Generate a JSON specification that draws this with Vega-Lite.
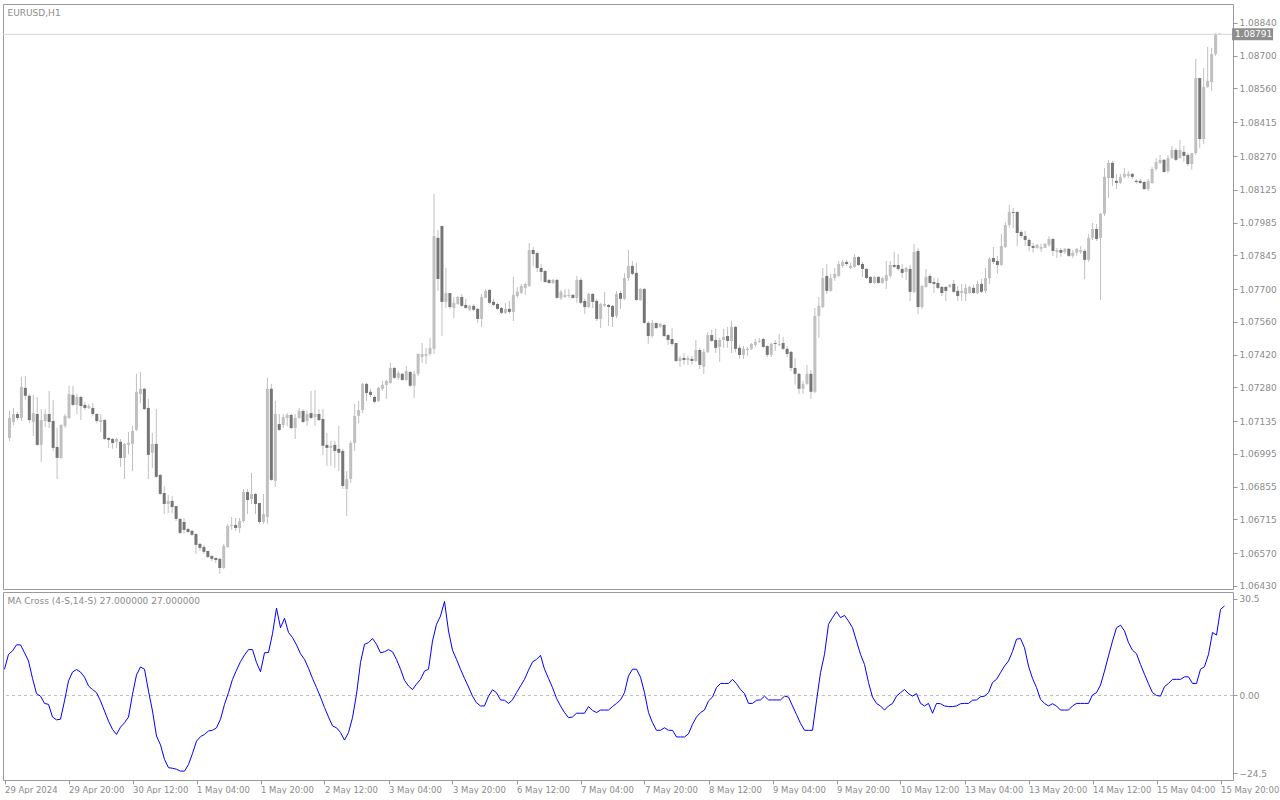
{
  "$schema": "https://vega.github.io/schema/vega-lite/v6.json",
  "background": "white",
  "padding": {"left": 2, "top": 3, "right": 0, "bottom": 0},
  "autosize": {"type": "pad"},
  "spacing": 3,
  "bounds": "flush",
  "config": {
    "font": "DejaVu Sans",
    "view": {"stroke": "#9a9a9a", "strokeWidth": 1},
    "axis": {"labelFont": "DejaVu Sans", "labelFontSize": 9, "labelColor": "#8b8b8b", "tickColor": "#9a9a9a", "domain": false, "grid": false, "title": null, "labelOverlap": false, "labelBound": false, "labelFlush": false},
    "title": {"font": "DejaVu Sans", "fontSize": 9, "fontWeight": "normal", "color": "#8b8b8b", "anchor": "start"}
  },
  "datasets": {
    "bars": [
{"i":0,"o":1.07064,"h":1.07179,"l":1.07051,"c":1.07149,"v":8.3},
{"i":1,"o":1.07132,"h":1.07192,"l":1.07119,"c":1.07166,"v":13.0},
{"i":2,"o":1.07166,"h":1.07175,"l":1.07140,"c":1.07149,"v":14.1},
{"i":3,"o":1.07149,"h":1.07325,"l":1.07136,"c":1.07282,"v":16.0},
{"i":4,"o":1.07278,"h":1.07329,"l":1.07226,"c":1.07244,"v":16.0},
{"i":5,"o":1.07244,"h":1.07252,"l":1.07127,"c":1.07140,"v":13.5},
{"i":6,"o":1.07132,"h":1.07248,"l":1.07072,"c":1.07170,"v":10.9},
{"i":7,"o":1.07166,"h":1.07239,"l":1.07030,"c":1.07034,"v":5.4},
{"i":8,"o":1.07034,"h":1.07187,"l":1.06961,"c":1.07140,"v":0.6},
{"i":9,"o":1.07136,"h":1.07187,"l":1.07110,"c":1.07166,"v":-0.2},
{"i":10,"o":1.07166,"h":1.07265,"l":1.07106,"c":1.07132,"v":-2.5},
{"i":11,"o":1.07136,"h":1.07226,"l":1.07008,"c":1.07021,"v":-2.8},
{"i":12,"o":1.07025,"h":1.07106,"l":1.06888,"c":1.06978,"v":-6.8},
{"i":13,"o":1.06978,"h":1.07123,"l":1.06974,"c":1.07119,"v":-7.7},
{"i":14,"o":1.07115,"h":1.07166,"l":1.07106,"c":1.07158,"v":-7.5},
{"i":15,"o":1.07149,"h":1.07287,"l":1.07145,"c":1.07252,"v":-1.7},
{"i":16,"o":1.07248,"h":1.07287,"l":1.07200,"c":1.07205,"v":4.6},
{"i":17,"o":1.07205,"h":1.07252,"l":1.07166,"c":1.07239,"v":7.4},
{"i":18,"o":1.07239,"h":1.07244,"l":1.07140,"c":1.07200,"v":8.2},
{"i":19,"o":1.07205,"h":1.07218,"l":1.07183,"c":1.07192,"v":7.4},
{"i":20,"o":1.07192,"h":1.07209,"l":1.07187,"c":1.07200,"v":5.8},
{"i":21,"o":1.07192,"h":1.07213,"l":1.07158,"c":1.07166,"v":3.0},
{"i":22,"o":1.07166,"h":1.07170,"l":1.07127,"c":1.07136,"v":1.9},
{"i":23,"o":1.07132,"h":1.07166,"l":1.07089,"c":1.07140,"v":0.9},
{"i":24,"o":1.07140,"h":1.07145,"l":1.07055,"c":1.07059,"v":-1.7},
{"i":25,"o":1.07064,"h":1.07064,"l":1.07021,"c":1.07055,"v":-4.9},
{"i":26,"o":1.07059,"h":1.07064,"l":1.07017,"c":1.07042,"v":-8.1},
{"i":27,"o":1.07047,"h":1.07064,"l":1.07021,"c":1.07059,"v":-10.7},
{"i":28,"o":1.07047,"h":1.07059,"l":1.06940,"c":1.06978,"v":-12.3},
{"i":29,"o":1.06978,"h":1.07042,"l":1.06888,"c":1.07038,"v":-10.0},
{"i":30,"o":1.07034,"h":1.07089,"l":1.06995,"c":1.07042,"v":-8.6},
{"i":31,"o":1.07038,"h":1.07115,"l":1.06922,"c":1.07094,"v":-6.8},
{"i":32,"o":1.07098,"h":1.07338,"l":1.07094,"c":1.07261,"v":0.4},
{"i":33,"o":1.07252,"h":1.07346,"l":1.07213,"c":1.07274,"v":6.5},
{"i":34,"o":1.07274,"h":1.07278,"l":1.07183,"c":1.07187,"v":9.0},
{"i":35,"o":1.07192,"h":1.07231,"l":1.06888,"c":1.06991,"v":8.3},
{"i":36,"o":1.07000,"h":1.07085,"l":1.06935,"c":1.07038,"v":1.4},
{"i":37,"o":1.07038,"h":1.07187,"l":1.06893,"c":1.06897,"v":-4.9},
{"i":38,"o":1.06905,"h":1.06910,"l":1.06820,"c":1.06824,"v":-12.8},
{"i":39,"o":1.06828,"h":1.06858,"l":1.06738,"c":1.06781,"v":-15.6},
{"i":40,"o":1.06781,"h":1.06820,"l":1.06742,"c":1.06794,"v":-20.2},
{"i":41,"o":1.06794,"h":1.06815,"l":1.06742,"c":1.06768,"v":-22.8},
{"i":42,"o":1.06772,"h":1.06772,"l":1.06708,"c":1.06717,"v":-23.0},
{"i":43,"o":1.06717,"h":1.06721,"l":1.06653,"c":1.06657,"v":-23.3},
{"i":44,"o":1.06704,"h":1.06721,"l":1.06653,"c":1.06670,"v":-23.9},
{"i":45,"o":1.06674,"h":1.06678,"l":1.06657,"c":1.06661,"v":-23.9},
{"i":46,"o":1.06666,"h":1.06670,"l":1.06644,"c":1.06649,"v":-21.8},
{"i":47,"o":1.06653,"h":1.06653,"l":1.06567,"c":1.06606,"v":-18.3},
{"i":48,"o":1.06610,"h":1.06614,"l":1.06580,"c":1.06593,"v":-14.4},
{"i":49,"o":1.06597,"h":1.06606,"l":1.06567,"c":1.06576,"v":-13.0},
{"i":50,"o":1.06580,"h":1.06580,"l":1.06550,"c":1.06554,"v":-12.3},
{"i":51,"o":1.06558,"h":1.06563,"l":1.06537,"c":1.06546,"v":-11.2},
{"i":52,"o":1.06550,"h":1.06550,"l":1.06528,"c":1.06541,"v":-11.0},
{"i":53,"o":1.06546,"h":1.06550,"l":1.06481,"c":1.06507,"v":-10.2},
{"i":54,"o":1.06507,"h":1.06610,"l":1.06503,"c":1.06601,"v":-7.5},
{"i":55,"o":1.06597,"h":1.06696,"l":1.06593,"c":1.06687,"v":-2.8},
{"i":56,"o":1.06687,"h":1.06725,"l":1.06670,"c":1.06691,"v":0.9},
{"i":57,"o":1.06691,"h":1.06721,"l":1.06666,"c":1.06678,"v":5.1},
{"i":58,"o":1.06678,"h":1.06721,"l":1.06657,"c":1.06708,"v":8.0},
{"i":59,"o":1.06708,"h":1.06845,"l":1.06700,"c":1.06832,"v":10.7},
{"i":60,"o":1.06832,"h":1.06845,"l":1.06738,"c":1.06798,"v":12.8},
{"i":61,"o":1.06802,"h":1.06914,"l":1.06781,"c":1.06824,"v":14.5},
{"i":62,"o":1.06824,"h":1.06828,"l":1.06738,"c":1.06781,"v":14.5},
{"i":63,"o":1.06785,"h":1.06785,"l":1.06696,"c":1.06704,"v":10.4},
{"i":64,"o":1.06704,"h":1.06824,"l":1.06696,"c":1.06738,"v":7.5},
{"i":65,"o":1.06725,"h":1.07321,"l":1.06696,"c":1.07274,"v":13.5},
{"i":66,"o":1.07274,"h":1.07295,"l":1.06880,"c":1.06884,"v":13.6},
{"i":67,"o":1.06880,"h":1.07222,"l":1.06854,"c":1.07166,"v":19.5},
{"i":68,"o":1.07123,"h":1.07166,"l":1.07094,"c":1.07098,"v":27.6},
{"i":69,"o":1.07119,"h":1.07166,"l":1.07106,"c":1.07153,"v":21.4},
{"i":70,"o":1.07149,"h":1.07170,"l":1.07115,"c":1.07162,"v":24.4},
{"i":71,"o":1.07162,"h":1.07166,"l":1.07102,"c":1.07106,"v":19.9},
{"i":72,"o":1.07106,"h":1.07166,"l":1.07059,"c":1.07149,"v":18.3},
{"i":73,"o":1.07149,"h":1.07192,"l":1.07145,"c":1.07179,"v":16.0},
{"i":74,"o":1.07179,"h":1.07187,"l":1.07127,"c":1.07132,"v":13.2},
{"i":75,"o":1.07136,"h":1.07179,"l":1.07115,"c":1.07166,"v":11.4},
{"i":76,"o":1.07170,"h":1.07265,"l":1.07145,"c":1.07149,"v":8.6},
{"i":77,"o":1.07153,"h":1.07269,"l":1.07115,"c":1.07166,"v":5.4},
{"i":78,"o":1.07166,"h":1.07187,"l":1.07136,"c":1.07140,"v":2.5},
{"i":79,"o":1.07145,"h":1.07187,"l":1.06991,"c":1.07030,"v":-0.5},
{"i":80,"o":1.07034,"h":1.07085,"l":1.06944,"c":1.07021,"v":-3.8},
{"i":81,"o":1.07021,"h":1.07051,"l":1.06944,"c":1.07030,"v":-6.8},
{"i":82,"o":1.07034,"h":1.07051,"l":1.06935,"c":1.07008,"v":-9.6},
{"i":83,"o":1.07017,"h":1.07115,"l":1.06922,"c":1.07000,"v":-10.2},
{"i":84,"o":1.07008,"h":1.07017,"l":1.06845,"c":1.06858,"v":-11.7},
{"i":85,"o":1.06845,"h":1.06922,"l":1.06730,"c":1.06888,"v":-14.1},
{"i":86,"o":1.06888,"h":1.07051,"l":1.06871,"c":1.07042,"v":-11.7},
{"i":87,"o":1.07042,"h":1.07209,"l":1.07008,"c":1.07158,"v":-7.0},
{"i":88,"o":1.07158,"h":1.07222,"l":1.07127,"c":1.07183,"v":0.4},
{"i":89,"o":1.07183,"h":1.07299,"l":1.07170,"c":1.07295,"v":10.4},
{"i":90,"o":1.07295,"h":1.07299,"l":1.07222,"c":1.07256,"v":16.2},
{"i":91,"o":1.07261,"h":1.07274,"l":1.07239,"c":1.07248,"v":16.7},
{"i":92,"o":1.07239,"h":1.07244,"l":1.07213,"c":1.07218,"v":18.0},
{"i":93,"o":1.07222,"h":1.07282,"l":1.07218,"c":1.07278,"v":16.2},
{"i":94,"o":1.07274,"h":1.07308,"l":1.07265,"c":1.07291,"v":13.5},
{"i":95,"o":1.07291,"h":1.07312,"l":1.07231,"c":1.07308,"v":13.8},
{"i":96,"o":1.07299,"h":1.07385,"l":1.07295,"c":1.07363,"v":14.5},
{"i":97,"o":1.07363,"h":1.07368,"l":1.07316,"c":1.07321,"v":13.8},
{"i":98,"o":1.07321,"h":1.07350,"l":1.07312,"c":1.07342,"v":11.4},
{"i":99,"o":1.07338,"h":1.07342,"l":1.07308,"c":1.07312,"v":8.3},
{"i":100,"o":1.07312,"h":1.07372,"l":1.07308,"c":1.07350,"v":4.8},
{"i":101,"o":1.07346,"h":1.07350,"l":1.07282,"c":1.07287,"v":3.0},
{"i":102,"o":1.07287,"h":1.07350,"l":1.07235,"c":1.07338,"v":1.9},
{"i":103,"o":1.07338,"h":1.07427,"l":1.07329,"c":1.07423,"v":3.6},
{"i":104,"o":1.07410,"h":1.07470,"l":1.07385,"c":1.07423,"v":5.1},
{"i":105,"o":1.07415,"h":1.07449,"l":1.07380,"c":1.07423,"v":7.7},
{"i":106,"o":1.07423,"h":1.07492,"l":1.07415,"c":1.07449,"v":8.3},
{"i":107,"o":1.07445,"h":1.08108,"l":1.07423,"c":1.07928,"v":17.2},
{"i":108,"o":1.07920,"h":1.07954,"l":1.07693,"c":1.07744,"v":22.5},
{"i":109,"o":1.07971,"h":1.07971,"l":1.07500,"c":1.07646,"v":25.1},
{"i":110,"o":1.07646,"h":1.07791,"l":1.07620,"c":1.07684,"v":29.7},
{"i":111,"o":1.07684,"h":1.07684,"l":1.07616,"c":1.07624,"v":20.4},
{"i":112,"o":1.07620,"h":1.07667,"l":1.07577,"c":1.07642,"v":14.3},
{"i":113,"o":1.07637,"h":1.07671,"l":1.07633,"c":1.07667,"v":11.4},
{"i":114,"o":1.07667,"h":1.07680,"l":1.07624,"c":1.07629,"v":8.3},
{"i":115,"o":1.07633,"h":1.07659,"l":1.07616,"c":1.07620,"v":5.4},
{"i":116,"o":1.07612,"h":1.07633,"l":1.07607,"c":1.07629,"v":2.7},
{"i":117,"o":1.07629,"h":1.07637,"l":1.07607,"c":1.07612,"v":-0.2},
{"i":118,"o":1.07616,"h":1.07620,"l":1.07556,"c":1.07573,"v":-2.3},
{"i":119,"o":1.07573,"h":1.07680,"l":1.07539,"c":1.07667,"v":-3.3},
{"i":120,"o":1.07663,"h":1.07701,"l":1.07663,"c":1.07693,"v":-3.3},
{"i":121,"o":1.07697,"h":1.07701,"l":1.07637,"c":1.07642,"v":-0.2},
{"i":122,"o":1.07646,"h":1.07659,"l":1.07629,"c":1.07633,"v":1.8},
{"i":123,"o":1.07637,"h":1.07642,"l":1.07612,"c":1.07616,"v":0.9},
{"i":124,"o":1.07620,"h":1.07624,"l":1.07594,"c":1.07599,"v":-1.4},
{"i":125,"o":1.07599,"h":1.07642,"l":1.07594,"c":1.07616,"v":-1.5},
{"i":126,"o":1.07616,"h":1.07650,"l":1.07594,"c":1.07603,"v":-2.5},
{"i":127,"o":1.07603,"h":1.07753,"l":1.07564,"c":1.07676,"v":-1.4},
{"i":128,"o":1.07671,"h":1.07710,"l":1.07663,"c":1.07689,"v":0.9},
{"i":129,"o":1.07684,"h":1.07723,"l":1.07680,"c":1.07714,"v":3.0},
{"i":130,"o":1.07706,"h":1.07727,"l":1.07676,"c":1.07723,"v":5.1},
{"i":131,"o":1.07714,"h":1.07898,"l":1.07710,"c":1.07868,"v":8.0},
{"i":132,"o":1.07868,"h":1.07881,"l":1.07800,"c":1.07851,"v":10.6},
{"i":133,"o":1.07855,"h":1.07860,"l":1.07774,"c":1.07791,"v":11.4},
{"i":134,"o":1.07791,"h":1.07808,"l":1.07736,"c":1.07774,"v":12.7},
{"i":135,"o":1.07778,"h":1.07783,"l":1.07727,"c":1.07731,"v":8.3},
{"i":136,"o":1.07740,"h":1.07744,"l":1.07723,"c":1.07727,"v":5.4},
{"i":137,"o":1.07727,"h":1.07744,"l":1.07723,"c":1.07740,"v":2.5},
{"i":138,"o":1.07740,"h":1.07744,"l":1.07659,"c":1.07663,"v":-0.9},
{"i":139,"o":1.07663,"h":1.07697,"l":1.07654,"c":1.07689,"v":-3.3},
{"i":140,"o":1.07667,"h":1.07701,"l":1.07663,"c":1.07676,"v":-5.4},
{"i":141,"o":1.07671,"h":1.07701,"l":1.07663,"c":1.07676,"v":-7.0},
{"i":142,"o":1.07676,"h":1.07680,"l":1.07659,"c":1.07663,"v":-6.8},
{"i":143,"o":1.07663,"h":1.07757,"l":1.07642,"c":1.07740,"v":-5.6},
{"i":144,"o":1.07740,"h":1.07748,"l":1.07637,"c":1.07642,"v":-5.6},
{"i":145,"o":1.07650,"h":1.07659,"l":1.07594,"c":1.07624,"v":-5.6},
{"i":146,"o":1.07624,"h":1.07684,"l":1.07620,"c":1.07680,"v":-3.5},
{"i":147,"o":1.07680,"h":1.07684,"l":1.07620,"c":1.07646,"v":-4.7},
{"i":148,"o":1.07650,"h":1.07659,"l":1.07564,"c":1.07573,"v":-5.4},
{"i":149,"o":1.07573,"h":1.07642,"l":1.07534,"c":1.07637,"v":-4.6},
{"i":150,"o":1.07629,"h":1.07689,"l":1.07624,"c":1.07637,"v":-4.6},
{"i":151,"o":1.07633,"h":1.07637,"l":1.07543,"c":1.07624,"v":-4.6},
{"i":152,"o":1.07629,"h":1.07633,"l":1.07539,"c":1.07582,"v":-3.5},
{"i":153,"o":1.07586,"h":1.07693,"l":1.07577,"c":1.07680,"v":-2.5},
{"i":154,"o":1.07684,"h":1.07693,"l":1.07616,"c":1.07659,"v":-1.4},
{"i":155,"o":1.07659,"h":1.07770,"l":1.07654,"c":1.07748,"v":0.9},
{"i":156,"o":1.07748,"h":1.07868,"l":1.07736,"c":1.07800,"v":6.2},
{"i":157,"o":1.07800,"h":1.07821,"l":1.07761,"c":1.07766,"v":8.3},
{"i":158,"o":1.07770,"h":1.07813,"l":1.07650,"c":1.07654,"v":8.3},
{"i":159,"o":1.07654,"h":1.07706,"l":1.07650,"c":1.07701,"v":5.8},
{"i":160,"o":1.07701,"h":1.07706,"l":1.07552,"c":1.07556,"v":0.9},
{"i":161,"o":1.07556,"h":1.07564,"l":1.07466,"c":1.07500,"v":-5.4},
{"i":162,"o":1.07500,"h":1.07569,"l":1.07492,"c":1.07556,"v":-8.6},
{"i":163,"o":1.07556,"h":1.07556,"l":1.07530,"c":1.07534,"v":-11.0},
{"i":164,"o":1.07539,"h":1.07556,"l":1.07534,"c":1.07552,"v":-11.0},
{"i":165,"o":1.07547,"h":1.07552,"l":1.07496,"c":1.07500,"v":-10.2},
{"i":166,"o":1.07504,"h":1.07509,"l":1.07462,"c":1.07483,"v":-11.0},
{"i":167,"o":1.07487,"h":1.07534,"l":1.07457,"c":1.07466,"v":-11.0},
{"i":168,"o":1.07470,"h":1.07470,"l":1.07389,"c":1.07393,"v":-13.1},
{"i":169,"o":1.07393,"h":1.07415,"l":1.07368,"c":1.07406,"v":-13.1},
{"i":170,"o":1.07406,"h":1.07427,"l":1.07376,"c":1.07397,"v":-13.1},
{"i":171,"o":1.07397,"h":1.07415,"l":1.07376,"c":1.07406,"v":-12.1},
{"i":172,"o":1.07402,"h":1.07415,"l":1.07376,"c":1.07393,"v":-9.1},
{"i":173,"o":1.07393,"h":1.07483,"l":1.07389,"c":1.07440,"v":-6.8},
{"i":174,"o":1.07440,"h":1.07449,"l":1.07359,"c":1.07376,"v":-5.4},
{"i":175,"o":1.07368,"h":1.07445,"l":1.07338,"c":1.07432,"v":-4.6},
{"i":176,"o":1.07432,"h":1.07517,"l":1.07427,"c":1.07504,"v":-1.7},
{"i":177,"o":1.07504,"h":1.07526,"l":1.07475,"c":1.07479,"v":-0.5},
{"i":178,"o":1.07483,"h":1.07530,"l":1.07427,"c":1.07449,"v":2.5},
{"i":179,"o":1.07453,"h":1.07492,"l":1.07389,"c":1.07483,"v":3.8},
{"i":180,"o":1.07483,"h":1.07530,"l":1.07449,"c":1.07496,"v":3.8},
{"i":181,"o":1.07500,"h":1.07539,"l":1.07449,"c":1.07479,"v":3.8},
{"i":182,"o":1.07479,"h":1.07564,"l":1.07427,"c":1.07539,"v":5.1},
{"i":183,"o":1.07539,"h":1.07543,"l":1.07432,"c":1.07445,"v":3.7},
{"i":184,"o":1.07449,"h":1.07462,"l":1.07402,"c":1.07419,"v":1.9},
{"i":185,"o":1.07419,"h":1.07457,"l":1.07402,"c":1.07445,"v":0.6},
{"i":186,"o":1.07440,"h":1.07453,"l":1.07415,"c":1.07445,"v":-2.5},
{"i":187,"o":1.07445,"h":1.07470,"l":1.07440,"c":1.07466,"v":-2.5},
{"i":188,"o":1.07462,"h":1.07487,"l":1.07453,"c":1.07475,"v":-1.5},
{"i":189,"o":1.07475,"h":1.07492,"l":1.07470,"c":1.07479,"v":-1.4},
{"i":190,"o":1.07487,"h":1.07492,"l":1.07449,"c":1.07453,"v":-0.2},
{"i":191,"o":1.07457,"h":1.07462,"l":1.07410,"c":1.07419,"v":-1.4},
{"i":192,"o":1.07419,"h":1.07470,"l":1.07410,"c":1.07466,"v":-1.4},
{"i":193,"o":1.07470,"h":1.07483,"l":1.07436,"c":1.07466,"v":-1.4},
{"i":194,"o":1.07462,"h":1.07509,"l":1.07457,"c":1.07466,"v":-1.4},
{"i":195,"o":1.07470,"h":1.07496,"l":1.07440,"c":1.07445,"v":-0.2},
{"i":196,"o":1.07445,"h":1.07457,"l":1.07410,"c":1.07423,"v":-0.5},
{"i":197,"o":1.07432,"h":1.07436,"l":1.07350,"c":1.07363,"v":-3.3},
{"i":198,"o":1.07363,"h":1.07406,"l":1.07291,"c":1.07338,"v":-6.0},
{"i":199,"o":1.07338,"h":1.07342,"l":1.07252,"c":1.07274,"v":-8.8},
{"i":200,"o":1.07274,"h":1.07308,"l":1.07252,"c":1.07295,"v":-11.0},
{"i":201,"o":1.07295,"h":1.07376,"l":1.07291,"c":1.07338,"v":-11.0},
{"i":202,"o":1.07338,"h":1.07355,"l":1.07231,"c":1.07261,"v":-11.0},
{"i":203,"o":1.07261,"h":1.07620,"l":1.07256,"c":1.07586,"v":-1.7},
{"i":204,"o":1.07586,"h":1.07667,"l":1.07492,"c":1.07629,"v":7.2},
{"i":205,"o":1.07624,"h":1.07791,"l":1.07620,"c":1.07748,"v":13.0},
{"i":206,"o":1.07757,"h":1.07808,"l":1.07680,"c":1.07693,"v":22.5},
{"i":207,"o":1.07693,"h":1.07766,"l":1.07689,"c":1.07748,"v":24.6},
{"i":208,"o":1.07748,"h":1.07791,"l":1.07736,"c":1.07766,"v":26.5},
{"i":209,"o":1.07757,"h":1.07821,"l":1.07753,"c":1.07808,"v":24.6},
{"i":210,"o":1.07800,"h":1.07826,"l":1.07791,"c":1.07817,"v":25.3},
{"i":211,"o":1.07817,"h":1.07826,"l":1.07800,"c":1.07808,"v":23.5},
{"i":212,"o":1.07791,"h":1.07813,"l":1.07787,"c":1.07800,"v":21.4},
{"i":213,"o":1.07796,"h":1.07851,"l":1.07791,"c":1.07838,"v":17.2},
{"i":214,"o":1.07838,"h":1.07843,"l":1.07800,"c":1.07804,"v":13.0},
{"i":215,"o":1.07808,"h":1.07817,"l":1.07753,"c":1.07787,"v":9.8},
{"i":216,"o":1.07787,"h":1.07791,"l":1.07744,"c":1.07748,"v":4.1},
{"i":217,"o":1.07753,"h":1.07757,"l":1.07723,"c":1.07727,"v":-0.5},
{"i":218,"o":1.07727,"h":1.07757,"l":1.07723,"c":1.07753,"v":-2.5},
{"i":219,"o":1.07753,"h":1.07757,"l":1.07723,"c":1.07727,"v":-3.3},
{"i":220,"o":1.07727,"h":1.07753,"l":1.07723,"c":1.07748,"v":-4.6},
{"i":221,"o":1.07736,"h":1.07821,"l":1.07701,"c":1.07761,"v":-3.3},
{"i":222,"o":1.07757,"h":1.07821,"l":1.07748,"c":1.07804,"v":-2.5},
{"i":223,"o":1.07804,"h":1.07860,"l":1.07791,"c":1.07796,"v":-0.2},
{"i":224,"o":1.07804,"h":1.07851,"l":1.07778,"c":1.07787,"v":0.9},
{"i":225,"o":1.07787,"h":1.07808,"l":1.07748,"c":1.07770,"v":1.9},
{"i":226,"o":1.07774,"h":1.07796,"l":1.07740,"c":1.07791,"v":0.6},
{"i":227,"o":1.07787,"h":1.07804,"l":1.07650,"c":1.07689,"v":-0.2},
{"i":228,"o":1.07689,"h":1.07894,"l":1.07684,"c":1.07860,"v":0.6},
{"i":229,"o":1.07864,"h":1.07877,"l":1.07594,"c":1.07624,"v":-2.5},
{"i":230,"o":1.07624,"h":1.07719,"l":1.07616,"c":1.07714,"v":-3.3},
{"i":231,"o":1.07710,"h":1.07787,"l":1.07706,"c":1.07753,"v":-2.5},
{"i":232,"o":1.07757,"h":1.07766,"l":1.07723,"c":1.07727,"v":-5.6},
{"i":233,"o":1.07731,"h":1.07748,"l":1.07684,"c":1.07723,"v":-2.5},
{"i":234,"o":1.07727,"h":1.07748,"l":1.07701,"c":1.07706,"v":-2.6},
{"i":235,"o":1.07710,"h":1.07714,"l":1.07671,"c":1.07684,"v":-3.3},
{"i":236,"o":1.07710,"h":1.07714,"l":1.07650,"c":1.07693,"v":-3.5},
{"i":237,"o":1.07710,"h":1.07723,"l":1.07706,"c":1.07719,"v":-3.5},
{"i":238,"o":1.07723,"h":1.07740,"l":1.07684,"c":1.07689,"v":-3.3},
{"i":239,"o":1.07693,"h":1.07714,"l":1.07650,"c":1.07671,"v":-2.6},
{"i":240,"o":1.07684,"h":1.07723,"l":1.07650,"c":1.07693,"v":-2.5},
{"i":241,"o":1.07680,"h":1.07723,"l":1.07650,"c":1.07706,"v":-2.5},
{"i":242,"o":1.07684,"h":1.07714,"l":1.07680,"c":1.07710,"v":-1.5},
{"i":243,"o":1.07706,"h":1.07719,"l":1.07680,"c":1.07684,"v":-1.4},
{"i":244,"o":1.07684,"h":1.07736,"l":1.07680,"c":1.07723,"v":-0.4},
{"i":245,"o":1.07723,"h":1.07744,"l":1.07684,"c":1.07689,"v":-0.2},
{"i":246,"o":1.07693,"h":1.07791,"l":1.07684,"c":1.07748,"v":0.9},
{"i":247,"o":1.07748,"h":1.07838,"l":1.07723,"c":1.07830,"v":4.1},
{"i":248,"o":1.07834,"h":1.07881,"l":1.07808,"c":1.07817,"v":5.1},
{"i":249,"o":1.07821,"h":1.07843,"l":1.07766,"c":1.07804,"v":7.2},
{"i":250,"o":1.07804,"h":1.07937,"l":1.07800,"c":1.07885,"v":9.3},
{"i":251,"o":1.07881,"h":1.07988,"l":1.07877,"c":1.07975,"v":10.9},
{"i":252,"o":1.07975,"h":1.08061,"l":1.07962,"c":1.08031,"v":13.9},
{"i":253,"o":1.08031,"h":1.08048,"l":1.07962,"c":1.08027,"v":17.8},
{"i":254,"o":1.08031,"h":1.08035,"l":1.07885,"c":1.07941,"v":18.0},
{"i":255,"o":1.07945,"h":1.07954,"l":1.07920,"c":1.07928,"v":15.1},
{"i":256,"o":1.07928,"h":1.07950,"l":1.07885,"c":1.07911,"v":9.3},
{"i":257,"o":1.07911,"h":1.07920,"l":1.07864,"c":1.07885,"v":5.4},
{"i":258,"o":1.07885,"h":1.07898,"l":1.07856,"c":1.07877,"v":2.5},
{"i":259,"o":1.07877,"h":1.07894,"l":1.07873,"c":1.07890,"v":-1.2},
{"i":260,"o":1.07873,"h":1.07894,"l":1.07860,"c":1.07881,"v":-2.5},
{"i":261,"o":1.07877,"h":1.07898,"l":1.07877,"c":1.07894,"v":-3.3},
{"i":262,"o":1.07890,"h":1.07928,"l":1.07881,"c":1.07915,"v":-2.6},
{"i":263,"o":1.07915,"h":1.07920,"l":1.07843,"c":1.07864,"v":-3.3},
{"i":264,"o":1.07860,"h":1.07877,"l":1.07834,"c":1.07868,"v":-4.6},
{"i":265,"o":1.07868,"h":1.07877,"l":1.07838,"c":1.07856,"v":-4.6},
{"i":266,"o":1.07860,"h":1.07877,"l":1.07851,"c":1.07873,"v":-4.6},
{"i":267,"o":1.07873,"h":1.07877,"l":1.07838,"c":1.07843,"v":-3.3},
{"i":268,"o":1.07843,"h":1.07868,"l":1.07834,"c":1.07856,"v":-2.5},
{"i":269,"o":1.07856,"h":1.07877,"l":1.07843,"c":1.07873,"v":-2.5},
{"i":270,"o":1.07860,"h":1.07885,"l":1.07851,"c":1.07868,"v":-2.5},
{"i":271,"o":1.07864,"h":1.07873,"l":1.07744,"c":1.07826,"v":-2.5},
{"i":272,"o":1.07826,"h":1.07937,"l":1.07817,"c":1.07920,"v":0.2},
{"i":273,"o":1.07920,"h":1.07984,"l":1.07911,"c":1.07958,"v":0.9},
{"i":274,"o":1.07958,"h":1.07980,"l":1.07907,"c":1.07915,"v":3.3},
{"i":275,"o":1.07920,"h":1.08027,"l":1.07654,"c":1.08023,"v":7.7},
{"i":276,"o":1.08023,"h":1.08219,"l":1.08014,"c":1.08181,"v":12.5},
{"i":277,"o":1.08176,"h":1.08254,"l":1.08091,"c":1.08241,"v":17.2},
{"i":278,"o":1.08241,"h":1.08249,"l":1.08142,"c":1.08176,"v":21.4},
{"i":279,"o":1.08164,"h":1.08194,"l":1.08129,"c":1.08155,"v":22.2},
{"i":280,"o":1.08155,"h":1.08194,"l":1.08151,"c":1.08181,"v":20.4},
{"i":281,"o":1.08181,"h":1.08219,"l":1.08176,"c":1.08194,"v":16.7},
{"i":282,"o":1.08185,"h":1.08206,"l":1.08176,"c":1.08194,"v":14.3},
{"i":283,"o":1.08194,"h":1.08198,"l":1.08172,"c":1.08181,"v":13.2},
{"i":284,"o":1.08164,"h":1.08172,"l":1.08151,"c":1.08159,"v":9.8},
{"i":285,"o":1.08164,"h":1.08172,"l":1.08151,"c":1.08155,"v":6.7},
{"i":286,"o":1.08159,"h":1.08164,"l":1.08125,"c":1.08129,"v":3.7},
{"i":287,"o":1.08129,"h":1.08172,"l":1.08121,"c":1.08164,"v":0.9},
{"i":288,"o":1.08155,"h":1.08223,"l":1.08151,"c":1.08215,"v":0.0},
{"i":289,"o":1.08215,"h":1.08262,"l":1.08206,"c":1.08245,"v":-0.2},
{"i":290,"o":1.08241,"h":1.08275,"l":1.08236,"c":1.08254,"v":2.8},
{"i":291,"o":1.08254,"h":1.08258,"l":1.08198,"c":1.08202,"v":3.8},
{"i":292,"o":1.08206,"h":1.08275,"l":1.08198,"c":1.08262,"v":5.1},
{"i":293,"o":1.08262,"h":1.08313,"l":1.08258,"c":1.08296,"v":5.1},
{"i":294,"o":1.08296,"h":1.08305,"l":1.08249,"c":1.08254,"v":5.1},
{"i":295,"o":1.08262,"h":1.08339,"l":1.08258,"c":1.08296,"v":5.9},
{"i":296,"o":1.08288,"h":1.08313,"l":1.08245,"c":1.08271,"v":5.9},
{"i":297,"o":1.08275,"h":1.08283,"l":1.08228,"c":1.08236,"v":3.8},
{"i":298,"o":1.08236,"h":1.08283,"l":1.08211,"c":1.08283,"v":3.8},
{"i":299,"o":1.08283,"h":1.08686,"l":1.08275,"c":1.08604,"v":8.3},
{"i":300,"o":1.08604,"h":1.08604,"l":1.08305,"c":1.08343,"v":9.1},
{"i":301,"o":1.08343,"h":1.08647,"l":1.08322,"c":1.08566,"v":13.0},
{"i":302,"o":1.08566,"h":1.08737,"l":1.08562,"c":1.08592,"v":19.9},
{"i":303,"o":1.08587,"h":1.08733,"l":1.08549,"c":1.08707,"v":19.1},
{"i":304,"o":1.08707,"h":1.08797,"l":1.08699,"c":1.08793,"v":27.2},
{"i":305,"o":1.08793,"h":1.08795,"l":1.08789,"c":1.08791,"v":28.3}
    ]
  },
  "vconcat": [
    {
      "width": 1230,
      "height": 585,
      "title": {"text": "EURUSD,H1", "offset": -14, "dx": 5},
      "layer": [
        {
          "data": {"name": "bars"},
          "mark": {"type": "rule", "color": "#c0c0c0", "strokeWidth": 1},
          "encoding": {
            "x": {"field": "i", "type": "quantitative", "scale": {"domain": [-0.375, 307.125], "nice": false, "zero": false}, "axis": null},
            "y": {"field": "l", "type": "quantitative", "scale": {"domain": [1.06417, 1.08921], "nice": false, "zero": false},
                  "axis": {"orient": "right", "values": [1.0643, 1.0657, 1.06715, 1.06855, 1.06995, 1.07135, 1.0728, 1.0742, 1.0756, 1.077, 1.07845, 1.07985, 1.08125, 1.0827, 1.08415, 1.0856, 1.087, 1.0884], "format": ".5f", "tickSize": 4, "labelPadding": 2, "labelBaseline": "middle", "labelBound": false, "labelOverlap": false, "labelFlush": false}},
            "y2": {"field": "h"}
          }
        },
        {
          "data": {"name": "bars"},
          "mark": {"type": "bar", "size": 3},
          "encoding": {
            "x": {"field": "i", "type": "quantitative", "scale": {"domain": [-0.375, 307.125], "nice": false, "zero": false}, "axis": null},
            "y": {"field": "o", "type": "quantitative", "scale": {"domain": [1.06417, 1.08921], "nice": false, "zero": false},
                  "axis": {"orient": "right", "values": [1.0643, 1.0657, 1.06715, 1.06855, 1.06995, 1.07135, 1.0728, 1.0742, 1.0756, 1.077, 1.07845, 1.07985, 1.08125, 1.0827, 1.08415, 1.0856, 1.087, 1.0884], "format": ".5f", "tickSize": 4, "labelPadding": 2, "labelBaseline": "middle", "labelBound": false, "labelOverlap": false, "labelFlush": false}},
            "y2": {"field": "c"},
            "color": {"condition": {"test": "datum.c >= datum.o", "value": "#c0c0c0"}, "value": "#767676"}
          }
        },
        {
          "data": {"name": "bars"},
          "transform": [{"filter": "datum.i == 305"}],
          "mark": {"type": "rule", "color": "#d4d4d4", "strokeWidth": 1},
          "encoding": {
            "y": {"field": "c", "type": "quantitative", "scale": {"domain": [1.06417, 1.08921], "nice": false, "zero": false},
                  "axis": {"orient": "right", "values": [1.0643, 1.0657, 1.06715, 1.06855, 1.06995, 1.07135, 1.0728, 1.0742, 1.0756, 1.077, 1.07845, 1.07985, 1.08125, 1.0827, 1.08415, 1.0856, 1.087, 1.0884], "format": ".5f", "tickSize": 4, "labelPadding": 2, "labelBaseline": "middle", "labelBound": false, "labelOverlap": false, "labelFlush": false}}
          }
        },
        {
          "data": {"name": "bars"},
          "transform": [{"filter": "datum.i == 305"}],
          "mark": {"type": "point", "filled": true, "opacity": 1, "shape": "M-1,-0.2927H1V0.2927H-1Z", "size": 1681, "color": "#8e8e8e", "xOffset": 33},
          "encoding": {
            "x": {"field": "i", "type": "quantitative", "scale": {"domain": [-0.375, 307.125], "nice": false, "zero": false}, "axis": null},
            "y": {"field": "c", "type": "quantitative", "scale": {"domain": [1.06417, 1.08921], "nice": false, "zero": false},
                  "axis": {"orient": "right", "values": [1.0643, 1.0657, 1.06715, 1.06855, 1.06995, 1.07135, 1.0728, 1.0742, 1.0756, 1.077, 1.07845, 1.07985, 1.08125, 1.0827, 1.08415, 1.0856, 1.087, 1.0884], "format": ".5f", "tickSize": 4, "labelPadding": 2, "labelBaseline": "middle", "labelBound": false, "labelOverlap": false, "labelFlush": false}}
          }
        },
        {
          "data": {"name": "bars"},
          "transform": [{"filter": "datum.i == 305"}],
          "mark": {"type": "text", "color": "white", "align": "left", "baseline": "middle", "dx": 15.5, "font": "DejaVu Sans", "fontSize": 9},
          "encoding": {
            "x": {"field": "i", "type": "quantitative", "scale": {"domain": [-0.375, 307.125], "nice": false, "zero": false}, "axis": null},
            "y": {"field": "c", "type": "quantitative", "scale": {"domain": [1.06417, 1.08921], "nice": false, "zero": false},
                  "axis": {"orient": "right", "values": [1.0643, 1.0657, 1.06715, 1.06855, 1.06995, 1.07135, 1.0728, 1.0742, 1.0756, 1.077, 1.07845, 1.07985, 1.08125, 1.0827, 1.08415, 1.0856, 1.087, 1.0884], "format": ".5f", "tickSize": 4, "labelPadding": 2, "labelBaseline": "middle", "labelBound": false, "labelOverlap": false, "labelFlush": false}},
            "text": {"field": "c", "type": "quantitative", "format": ".5f"}
          }
        }
      ]
    },
    {
      "width": 1230,
      "height": 188,
      "title": {"text": "MA Cross (4-S,14-S)  27.000000 27.000000", "offset": -14, "dx": 5},
      "layer": [
        {
          "data": {"values": [{"level": 0}]},
          "mark": {"type": "rule", "color": "#c0c0c0", "strokeWidth": 1, "strokeDash": [3, 3]},
          "encoding": {
            "y": {"field": "level", "type": "quantitative", "scale": {"domain": [-26.7, 32.7], "nice": false, "zero": false},
                  "axis": {"orient": "right", "values": [30.5, 0, -24.5], "labelExpr": "datum.value == 0 ? '0.00' : format(datum.value, '.1f')", "tickSize": 4, "labelPadding": 2, "labelBaseline": "middle", "labelBound": false, "labelOverlap": false, "labelFlush": false}}
          }
        },
        {
          "data": {"name": "bars"},
          "mark": {"type": "line", "color": "#0000ff", "strokeWidth": 1},
          "encoding": {
            "x": {"field": "i", "type": "quantitative", "scale": {"domain": [-0.375, 307.125], "nice": false, "zero": false},
                  "axis": {"orient": "bottom", "values": [0, 16, 32, 48, 64, 80, 96, 112, 128, 144, 160, 176, 192, 208, 224, 240, 256, 272, 288, 304],
                           "labelExpr": "['29 Apr 2024','29 Apr 20:00','30 Apr 12:00','1 May 04:00','1 May 20:00','2 May 12:00','3 May 04:00','3 May 20:00','6 May 12:00','7 May 04:00','7 May 20:00','8 May 12:00','9 May 04:00','9 May 20:00','10 May 12:00','13 May 04:00','13 May 20:00','14 May 12:00','15 May 04:00','15 May 20:00'][round(datum.value/16)]",
                           "labelAlign": "left", "labelDx": -0.5, "labelBaseline": "top", "labelFontSize": 8.5, "tickSize": 4, "labelPadding": 1, "labelOverlap": false, "labelBound": false, "labelFlush": false}},
            "y": {"field": "v", "type": "quantitative", "scale": {"domain": [-26.7, 32.7], "nice": false, "zero": false},
                  "axis": {"orient": "right", "values": [30.5, 0, -24.5], "labelExpr": "datum.value == 0 ? '0.00' : format(datum.value, '.1f')", "tickSize": 4, "labelPadding": 2, "labelBaseline": "middle", "labelBound": false, "labelOverlap": false, "labelFlush": false}}
          }
        }
      ]
    }
  ]
}
